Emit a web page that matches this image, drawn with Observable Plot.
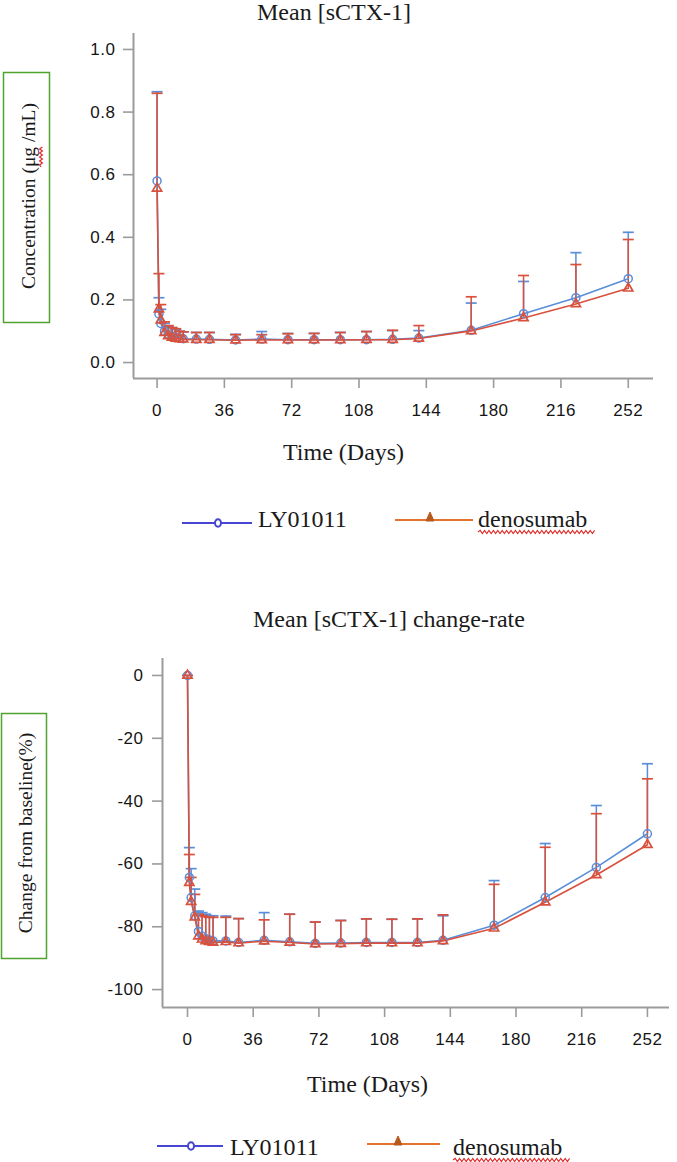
<!DOCTYPE html>
<html>
<head>
<meta charset="utf-8">
<script src="https://cdn.jsdelivr.net/npm/d3@7"></script>
<script src="https://cdn.jsdelivr.net/npm/@observablehq/plot@0.6"></script>
<style>
  html, body { margin: 0; padding: 0; background: #fff; }
  #page { position: relative; width: 677px; height: 1162px; overflow: hidden; background: #fff; }
  #page > svg, #page > figure { position: absolute; left: 0; margin: 0; }
</style>
</head>
<body>
<div id="page"></div>
<script>
// ---------------- DATA ----------------
const seriesNames = ["LY01011", "denosumab"];
const days = [0, 1, 2, 4, 6, 8, 10, 12, 14, 21, 28, 42, 56, 70, 84, 98, 112, 126, 140, 168, 196, 224, 252];

// Mean [sCTX-1] concentration (ug/mL) and mean + SD
const lyConc      = [0.58, 0.155, 0.125, 0.100, 0.090, 0.085, 0.080, 0.078, 0.076, 0.075, 0.074, 0.072, 0.075, 0.073, 0.073, 0.073, 0.073, 0.074, 0.078, 0.103, 0.156, 0.207, 0.268];
const lyConcUpper = [0.865, 0.207, 0.170, 0.125, 0.115, 0.110, 0.105, 0.100, 0.098, 0.096, 0.096, 0.090, 0.099, 0.093, 0.093, 0.096, 0.099, 0.102, 0.102, 0.190, 0.259, 0.351, 0.416];
const deConc      = [0.556, 0.170, 0.135, 0.095, 0.085, 0.080, 0.077, 0.075, 0.074, 0.073, 0.073, 0.071, 0.072, 0.072, 0.072, 0.072, 0.073, 0.073, 0.077, 0.101, 0.142, 0.187, 0.237];
const deConcUpper = [0.860, 0.284, 0.185, 0.130, 0.118, 0.112, 0.108, 0.100, 0.098, 0.096, 0.096, 0.089, 0.089, 0.092, 0.093, 0.096, 0.099, 0.103, 0.118, 0.210, 0.278, 0.313, 0.393];

// Mean [sCTX-1] change from baseline (%) and mean + SD
const lyChange      = [0, -64.3, -70.7, -76.5, -81.5, -83.0, -83.8, -84.2, -84.5, -84.5, -85.0, -84.3, -84.8, -85.3, -85.2, -85.0, -85.0, -85.0, -84.3, -79.5, -70.7, -61.1, -50.4];
const lyChangeUpper = [0, -54.8, -61.5, -68.0, -75.0, -75.5, -76.0, -76.5, -76.5, -76.6, -77.4, -75.5, -76.0, -78.5, -78.0, -77.5, -77.6, -77.5, -76.5, -65.3, -53.5, -41.4, -28.1];
const deChange      = [0, -66.0, -72.0, -77.0, -83.0, -84.0, -84.5, -84.8, -85.0, -84.8, -85.2, -84.6, -85.0, -85.5, -85.4, -85.2, -85.2, -85.2, -84.5, -80.5, -72.2, -63.5, -53.9];
const deChangeUpper = [0, -57.0, -64.3, -69.7, -76.0, -76.5, -76.8, -77.0, -77.0, -77.0, -77.4, -77.8, -76.0, -78.5, -78.0, -77.5, -77.6, -77.5, -76.2, -66.5, -54.7, -44.0, -32.9];

const xTicks = [0, 36, 72, 108, 144, 180, 216, 252];
const yTicksConc = [0, 0.2, 0.4, 0.6, 0.8, 1.0];
const yTicksChange = [0, -20, -40, -60, -80, -100];

const titleTop = "Mean [sCTX-1]";
const titleBottom = "Mean [sCTX-1] change-rate";
const xTitle = "Time (Days)";
const yTitleTop = "Concentration (μg /mL)";
const yTitleBottom = "Change from baseline(%)";

// ---------------- STYLE ----------------
const C_LY = "#5a8ed8";
const C_DE = "#d9503c";
const AXIS = "#9b9b9b";
const LEG_LY = "#4646d2";
const LEG_DE = "#e5732e";
const LEG_DE_MARK = "#b85a1c";

function rows(mean, upper, name) {
  return days.map((d, i) => ({day: d, mean: mean[i], upper: upper[i], series: name}));
}

const capSymbol = {draw(ctx) { ctx.moveTo(-5.5, 0); ctx.lineTo(5.5, 0); }};

function makePlot(cfg) {
  const a = rows(cfg.ly, cfg.lyUp, seriesNames[0]);
  const b = rows(cfg.de, cfg.deUp, seriesNames[1]);
  const svg = Plot.plot({
    width: 677,
    height: cfg.height,
    marginTop: cfg.mt, marginBottom: cfg.mb, marginLeft: cfg.ml, marginRight: cfg.mr,
    style: {background: "transparent", color: "#151515", fontFamily: "'Liberation Sans', Arial, sans-serif", fontSize: "17px", letterSpacing: "0.5px", overflow: "visible"},
    x: {domain: cfg.xDomain, ticks: xTicks, tickSize: 10, tickPadding: 15, label: null, tickFormat: d => String(d)},
    y: {domain: cfg.yDomain, ticks: cfg.yTicks, tickSize: 10, tickPadding: cfg.yPad, label: null, tickFormat: cfg.yFmt},
    marks: [
      Plot.ruleX([cfg.xDomain[0]], {stroke: AXIS, strokeWidth: 2}),
      Plot.ruleY([cfg.yDomain[0]], {stroke: AXIS, strokeWidth: 2}),
      Plot.ruleX(a, {x: "day", y1: "mean", y2: "upper", stroke: C_LY, strokeWidth: 1.5}),
      Plot.dot(a, {x: "day", y: "upper", symbol: capSymbol, fill: "none", stroke: C_LY, strokeWidth: 1.7}),
      Plot.ruleX(b, {x: "day", y1: "mean", y2: "upper", stroke: C_DE, strokeWidth: 1.5}),
      Plot.dot(b, {x: "day", y: "upper", symbol: capSymbol, fill: "none", stroke: C_DE, strokeWidth: 1.7}),
      Plot.line(a, {x: "day", y: "mean", stroke: C_LY, strokeWidth: 1.6}),
      Plot.line(b, {x: "day", y: "mean", stroke: C_DE, strokeWidth: 1.6}),
      Plot.dot(a, {x: "day", y: "mean", symbol: "circle", r: 4, fill: "none", stroke: C_LY, strokeWidth: 1.5}),
      Plot.dot(b, {x: "day", y: "mean", symbol: "triangle", r: 3.4, fill: "none", stroke: C_DE, strokeWidth: 1.7})
    ]
  });
  // grey axis ticks
  svg.querySelectorAll('g[aria-label^="x-axis"] line, g[aria-label^="x-axis"] path, g[aria-label^="y-axis"] line, g[aria-label^="y-axis"] path')
    .forEach(el => { el.setAttribute("stroke", AXIS); el.setAttribute("stroke-width", "1.6"); });
  svg.style.top = cfg.top + "px";
  return svg;
}

const page = document.getElementById("page");

page.appendChild(makePlot({
  top: 0, height: 440, mt: 33, mb: 62, ml: 133, mr: 24,
  xDomain: [-12.6, 265.5], yDomain: [-0.051, 1.051],
  yTicks: yTicksConc, yFmt: d3.format(".1f"), yPad: 8,
  ly: lyConc, lyUp: lyConcUpper, de: deConc, deUp: deConcUpper
}));

page.appendChild(makePlot({
  top: 600, height: 460, mt: 58, mb: 53, ml: 162, mr: 8,
  xDomain: [-13.7, 264.1], yDomain: [-105.7, 5.4],
  yTicks: yTicksChange, yFmt: d => String(d), yPad: 9,
  ly: lyChange, lyUp: lyChangeUpper, de: deChange, deUp: deChangeUpper
}));

// ---------------- ANNOTATION OVERLAY (titles, boxed axis labels, legends) ----------------
const NS = "http://www.w3.org/2000/svg";
const ov = document.createElementNS(NS, "svg");
ov.setAttribute("width", 677); ov.setAttribute("height", 1162);
ov.style.top = "0px"; ov.style.pointerEvents = "none";
ov.setAttribute("font-family", "'Liberation Serif', 'Times New Roman', serif");
page.appendChild(ov);

function el(tag, attrs, text) {
  const e = document.createElementNS(NS, tag);
  for (const k in attrs) e.setAttribute(k, attrs[k]);
  if (text != null) e.textContent = text;
  ov.appendChild(e);
  return e;
}
function wavy(x0, x1, y, amp = 1.6, step = 2.2) {
  let d = `M${x0},${y}`; let up = true;
  for (let x = x0 + step; x <= x1; x += step) { d += ` L${x.toFixed(1)},${(y + (up ? -amp : amp)).toFixed(1)}`; up = !up; }
  return d;
}

// titles
el("text", {x: 257, y: 20, "font-size": 24, fill: "#1a1a1a"}, titleTop);
el("text", {x: 253, y: 627, "font-size": 24, fill: "#1a1a1a"}, titleBottom);
el("text", {x: 283, y: 460, "font-size": 24, fill: "#1a1a1a"}, xTitle);
el("text", {x: 307, y: 1092, "font-size": 24, fill: "#1a1a1a"}, xTitle);

// boxed y-axis titles
el("rect", {x: 3.5, y: 72.5, width: 46, height: 250, fill: "none", stroke: "#4fa32e", "stroke-width": 1.5});
el("text", {transform: "translate(35,196) rotate(-90)", "text-anchor": "middle", "font-size": 19.5, fill: "#1a1a1a"}, yTitleTop);
el("path", {d: wavy(0, 20, 0, 1.4, 2), transform: "translate(41,167) rotate(-90)", fill: "none", stroke: "#e02828", "stroke-width": 1.2});
el("rect", {x: 1.5, y: 713.5, width: 45, height: 245, fill: "none", stroke: "#4fa32e", "stroke-width": 1.5});
el("text", {transform: "translate(32,833) rotate(-90)", "text-anchor": "middle", "font-size": 19.5, fill: "#1a1a1a"}, yTitleBottom);

// legends
function legend(cfg) {
  el("line", {x1: cfg.l1[0], x2: cfg.l1[1], y1: cfg.ly1, y2: cfg.ly1, stroke: LEG_LY, "stroke-width": 2.2});
  el("ellipse", {cx: cfg.c1, cy: cfg.ly1, rx: 3, ry: 3.8, fill: "#fff", stroke: LEG_LY, "stroke-width": 2});
  el("text", {x: cfg.t1, y: cfg.base, "font-size": 24, fill: "#1a1a1a"}, seriesNames[0]);
  el("line", {x1: cfg.l2[0], x2: cfg.l2[1], y1: cfg.ly2, y2: cfg.ly2, stroke: LEG_DE, "stroke-width": 1.8});
  const c = cfg.c2, ty = cfg.ly2;
  el("path", {d: `M${c},${ty - 8} L${c + 4},${ty + 1} L${c - 4},${ty + 1} Z`, fill: LEG_DE_MARK, stroke: LEG_DE_MARK, "stroke-width": 1});
  el("text", {x: cfg.t2, y: cfg.base, "font-size": 24, fill: "#1a1a1a"}, seriesNames[1]);
  el("path", {d: wavy(cfg.t2, cfg.t2 + 117, cfg.base + 5), fill: "none", stroke: "#e02828", "stroke-width": 1.1});
}
legend({l1: [182, 252], ly1: 523, c1: 218, t1: 258, l2: [395, 473], ly2: 520, c2: 430, t2: 478, base: 527});
legend({l1: [157, 223], ly1: 1146, c1: 191, t1: 230, l2: [367, 440], ly2: 1144, c2: 398, t2: 453, base: 1155});
</script>
</body>
</html>
